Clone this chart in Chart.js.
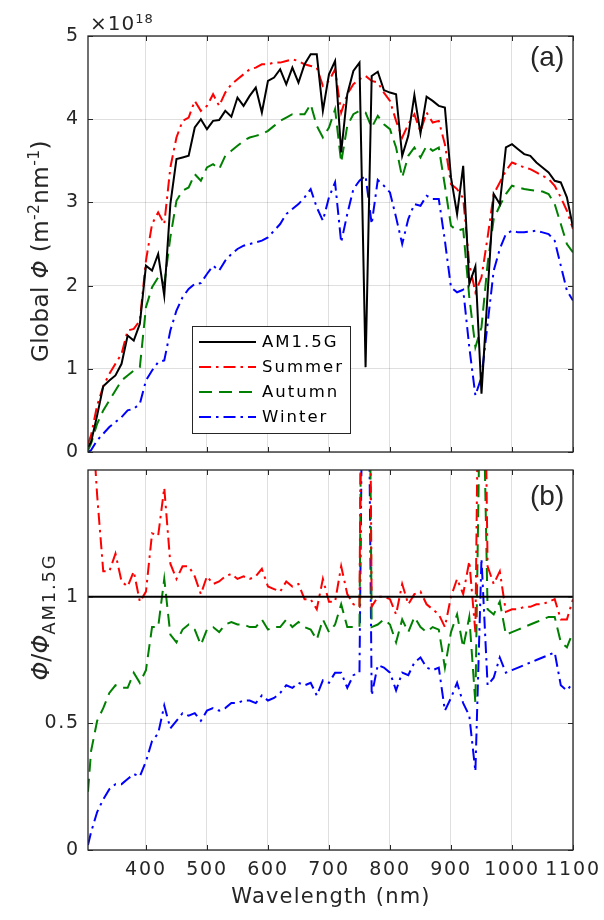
<!DOCTYPE html>
<html lang="en">
<head>
<meta charset="UTF-8">
<title>Global spectral photon flux by season</title>
<script src="https://cdn.jsdelivr.net/npm/chart.js"></script>
<style>
  body { margin: 0; background: #fff; }
  #page { position: relative; width: 604px; height: 920px; font-family: 'DejaVu Sans', sans-serif; color: #262626; overflow: hidden; }
  .panel { position: absolute; left: 0; width: 604px; height: 460px; }
  .txt { position: absolute; white-space: nowrap; line-height: normal; }
  .rot { transform: translate(-50%, -50%) rotate(-90deg); }
  .sp { font-size: 0.68em; position: relative; top: -0.55em; }
  .sb { font-size: 18px; letter-spacing: 1.8px; position: relative; top: 0.35em; }
</style>
</head>
<body>
<div id="page">
  <div class="panel" style="top:0"><canvas id="fluxChart"></canvas></div>
  <div class="panel" style="top:460px"><canvas id="ratioChart"></canvas></div>

  <div class="txt" style="left:90px;top:11px;font-size:20px;letter-spacing:1px">×10<span class="sp" style="font-size:13px">18</span></div>
  <div class="txt" style="left:530px;top:41px;font-size:28px;font-family:'Liberation Sans'">(a)</div>
  <div class="txt" style="left:530px;top:480px;font-size:28px;font-family:'Liberation Sans'">(b)</div>
  <div class="txt rot" style="left:40px;top:251px;font-size:23px;letter-spacing:0.4px">Global <i>Φ</i> (m<span class="sp">-2</span>nm<span class="sp">-1</span>)</div>
  <div class="txt rot" style="left:41px;top:617px;font-size:24px"><i>Φ</i>/<i>Φ</i><span class="sb">AM1.5G</span></div>
  <div class="txt" style="left:331px;top:884px;font-size:21px;letter-spacing:1.2px;transform:translateX(-50%)">Wavelength (nm)</div>
</div>

<script>
// wavelength grid (nm)
const wavelength = [
  305, 310, 320, 330, 340, 350, 360, 370, 380, 390,
  400, 410, 420, 430, 440, 450, 460, 470, 480, 490,
  500, 510, 520, 530, 540, 550, 560, 570, 580, 590,
  600, 610, 620, 630, 640, 650, 660, 670, 680, 690,
  700, 710, 720, 730, 740, 750, 760, 770, 780, 790,
  800, 810, 820, 830, 840, 850, 860, 870, 880, 890,
  900, 910, 920, 930, 940, 950, 960, 970, 980, 990,
  1000, 1010, 1020, 1030, 1040, 1050, 1060, 1070, 1080, 1090,
  1100
];

// global photon flux, x1e18 m^-2 nm^-1
const am15g = [
  0.06, 0.12, 0.44, 0.79, 0.86, 0.92, 1.06, 1.40, 1.34, 1.54,
  2.24, 2.18, 2.38, 1.88, 2.98, 3.52, 3.54, 3.56, 3.90, 4.00,
  3.88, 3.98, 3.99, 4.10, 4.03, 4.26, 4.16, 4.28, 4.38, 4.08,
  4.46, 4.50, 4.60, 4.42, 4.62, 4.44, 4.66, 4.78, 4.78, 4.10,
  4.54, 4.70, 3.60, 4.30, 4.58, 4.68, 1.02, 4.52, 4.57, 4.35,
  4.32, 4.30, 3.56, 3.80, 4.29, 3.83, 4.27, 4.22, 4.16, 4.14,
  3.30, 2.86, 3.44, 2.02, 2.23, 0.70, 1.90, 3.10, 2.98, 3.66,
  3.70, 3.64, 3.58, 3.56, 3.48, 3.42, 3.36, 3.26, 3.24, 3.06,
  2.70
];
const summer = [
  0.10, 0.20, 0.56, 0.79, 0.94, 1.06, 1.18, 1.46, 1.48, 1.58,
  2.30, 2.74, 2.88, 2.74, 3.42, 3.78, 3.98, 4.02, 4.22, 4.10,
  4.16, 4.30, 4.16, 4.32, 4.42, 4.48, 4.54, 4.60, 4.62, 4.66,
  4.66, 4.68, 4.68, 4.70, 4.72, 4.70, 4.66, 4.64, 4.62, 4.40,
  4.46, 4.60, 4.08, 4.30, 4.42, 4.48, 4.52, 4.46, 4.44, 4.32,
  4.22, 3.98, 3.78, 3.94, 4.06, 3.85, 4.08, 3.96, 3.98, 3.70,
  3.22, 3.16, 3.05, 2.26, 1.92, 2.10, 2.58, 3.10, 3.24, 3.38,
  3.48, 3.45, 3.42, 3.40, 3.36, 3.32, 3.28, 3.20, 3.06, 2.90,
  2.68
];
const autumn = [
  0.02, 0.10, 0.34, 0.50, 0.62, 0.74, 0.86, 0.92, 0.98, 1.02,
  1.74, 1.98, 2.10, 2.02, 2.58, 3.02, 3.14, 3.18, 3.34, 3.26,
  3.42, 3.46, 3.40, 3.56, 3.62, 3.68, 3.74, 3.78, 3.80, 3.82,
  3.86, 3.92, 3.98, 4.02, 4.06, 4.06, 4.06, 4.18, 3.92, 3.78,
  3.90, 4.12, 3.48, 3.92, 4.06, 4.10, 4.08, 3.90, 4.04, 3.94,
  3.88, 3.66, 3.30, 3.56, 3.66, 3.54, 3.68, 3.62, 3.66, 3.20,
  2.72, 2.66, 2.68, 1.86, 1.26, 1.50, 2.26, 2.80, 2.96, 3.10,
  3.20, 3.18, 3.16, 3.15, 3.14, 3.13, 3.10, 2.98, 2.74, 2.50,
  2.40
];
const winter = [
  0.00, 0.02, 0.14, 0.22, 0.30, 0.36, 0.42, 0.50, 0.52, 0.58,
  0.86, 0.98, 1.08, 1.10, 1.46, 1.70, 1.86, 1.96, 2.02, 2.03,
  2.14, 2.24, 2.18, 2.30, 2.38, 2.44, 2.48, 2.50, 2.52, 2.54,
  2.58, 2.66, 2.74, 2.86, 2.92, 2.98, 3.06, 3.16, 2.94, 2.78,
  3.06, 3.24, 2.52, 2.86, 3.16, 3.26, 3.32, 2.74, 3.27, 3.20,
  3.12, 2.82, 2.50, 2.80, 2.98, 2.96, 3.08, 3.04, 3.04, 2.54,
  1.98, 1.92, 1.95, 1.26, 0.68, 0.90, 1.54, 2.18, 2.44, 2.62,
  2.66, 2.64, 2.64, 2.65, 2.66, 2.64, 2.62, 2.54, 2.24, 1.94,
  1.82
];

// ratio to AM1.5G
const ratioSummer = [
  2.20, 1.78, 1.40, 1.10, 1.10, 1.17, 1.06, 1.04, 1.10, 0.98,
  1.02, 1.25, 1.24, 1.43, 1.13, 1.07, 1.12, 1.12, 1.08, 1.01,
  1.08, 1.05, 1.06, 1.08, 1.09, 1.07, 1.08, 1.07, 1.08, 1.11,
  1.04, 1.03, 1.02, 1.06, 1.04, 1.05, 0.99, 0.99, 0.95, 1.07,
  0.98, 0.98, 1.12, 1.01, 0.97, 0.96, 4.40, 0.96, 1.00, 1.00,
  0.99, 0.93, 1.05, 0.97, 1.01, 1.02, 0.97, 0.95, 0.93, 0.88,
  1.00, 1.07, 1.01, 1.14, 0.86, 3.00, 1.12, 1.05, 1.10, 0.94,
  0.95, 0.95, 0.96, 0.96, 0.97, 0.97, 0.98, 0.99, 0.91, 0.91,
  0.99
];
const ratioAutumn = [
  0.23, 0.39, 0.51, 0.56, 0.62, 0.65, 0.64, 0.64, 0.70, 0.66,
  0.71, 0.88, 0.88, 1.07, 0.85, 0.82, 0.87, 0.89, 0.87, 0.81,
  0.87, 0.88, 0.86, 0.89, 0.90, 0.89, 0.89, 0.88, 0.88, 0.91,
  0.87, 0.88, 0.88, 0.91, 0.88, 0.90, 0.88, 0.87, 0.83, 0.91,
  0.86, 0.89, 0.97, 0.88, 0.88, 0.88, 4.00, 0.88, 0.89, 0.91,
  0.89, 0.82, 0.91, 0.86, 0.92, 0.88, 0.86, 0.88, 0.87, 0.72,
  0.86, 0.93, 0.80, 0.92, 0.58, 2.20, 0.95, 0.93, 0.98, 0.85,
  0.86, 0.87, 0.88, 0.89, 0.90, 0.91, 0.92, 0.92, 0.82, 0.80,
  0.86
];
const ratioWinter = [
  0.02, 0.07, 0.15, 0.20, 0.24, 0.26, 0.26, 0.28, 0.30, 0.29,
  0.35, 0.43, 0.46, 0.57, 0.48, 0.51, 0.54, 0.53, 0.54, 0.51,
  0.55, 0.56, 0.55, 0.56, 0.58, 0.58, 0.59, 0.59, 0.58, 0.61,
  0.59, 0.60, 0.62, 0.65, 0.64, 0.66, 0.65, 0.66, 0.61, 0.67,
  0.66, 0.70, 0.70, 0.64, 0.69, 0.70, 3.20, 0.61, 0.73, 0.72,
  0.70, 0.63, 0.70, 0.69, 0.74, 0.76, 0.72, 0.71, 0.72, 0.55,
  0.60, 0.66, 0.58, 0.53, 0.31, 1.15, 0.65, 0.68, 0.76, 0.70,
  0.71, 0.72, 0.73, 0.74, 0.75, 0.76, 0.77, 0.78, 0.65, 0.63,
  0.66
];
const refX = [305, 1100];
const refY = [1, 1];

const xTicks = [400, 500, 600, 700, 800, 900, 1000, 1100];
const fluxTicks = [0, 1, 2, 3, 4, 5];
const ratioTicks = [0, 0.5, 1];

const dashDot = [12, 5, 2.5, 5];
const dashed = [13, 7];
const gridColor = 'rgba(38,38,38,0.15)';

Chart.defaults.font.family = "'DejaVu Sans', sans-serif";
Chart.defaults.font.size = 19;
Chart.defaults.color = '#262626';

const pts = (ys, xs) => ys.map((y, i) => ({ x: (xs || wavelength)[i], y: y }));
const fixedTicks = values => axis => { axis.ticks = values.map(v => ({ value: v })); };

// wider glyphs, like the original export
const spacing = {
  id: 'spacing',
  beforeDraw(chart) { chart.ctx.letterSpacing = '1.8px'; }
};

// box around the axes and inward tick marks
const frame = {
  id: 'frame',
  afterDatasetsDraw(chart) {
    const ctx = chart.ctx, a = chart.chartArea, sx = chart.scales.x, sy = chart.scales.y;
    ctx.save();
    ctx.strokeStyle = '#262626';
    ctx.lineWidth = 1;
    ctx.beginPath();
    sx.ticks.forEach(t => {
      const px = Math.round(sx.getPixelForValue(t.value)) + 0.5;
      ctx.moveTo(px, a.bottom); ctx.lineTo(px, a.bottom - 5);
      ctx.moveTo(px, a.top); ctx.lineTo(px, a.top + 5);
    });
    sy.ticks.forEach(t => {
      const py = Math.round(sy.getPixelForValue(t.value)) + 0.5;
      ctx.moveTo(a.left, py); ctx.lineTo(a.left + 5, py);
      ctx.moveTo(a.right, py); ctx.lineTo(a.right - 5, py);
    });
    ctx.stroke();
    ctx.lineWidth = 1.3;
    ctx.strokeRect(a.left, a.top, a.right - a.left, a.bottom - a.top);
    ctx.restore();
  }
};

// MATLAB style legend box inside panel (a)
const boxLegend = {
  id: 'boxLegend',
  afterDraw(chart) {
    const ctx = chart.ctx;
    const x0 = 192, y0 = 326, w = 158, h = 107;
    ctx.save();
    ctx.fillStyle = '#ffffff';
    ctx.fillRect(x0, y0, w, h);
    ctx.strokeStyle = '#262626';
    ctx.lineWidth = 1;
    ctx.strokeRect(x0 + 0.5, y0 + 0.5, w, h);
    chart.data.datasets.forEach((ds, i) => {
      const yy = y0 + 16 + 25 * i;
      ctx.strokeStyle = ds.borderColor;
      ctx.lineWidth = ds.borderWidth;
      ctx.setLineDash(ds.borderDash || []);
      ctx.beginPath();
      ctx.moveTo(x0 + 7, yy);
      ctx.lineTo(x0 + 64, yy);
      ctx.stroke();
      ctx.setLineDash([]);
      ctx.letterSpacing = '2px';
      ctx.fillStyle = '#000000';
      ctx.font = "16.5px 'DejaVu Sans'";
      ctx.textBaseline = 'middle';
      ctx.fillText(ds.label, x0 + 70, yy + 1);
    });
    ctx.restore();
  }
};

function makeOptions(yMax, yTicks, showX, padTop, xHeight) {
  return {
    responsive: true,
    maintainAspectRatio: false,
    animation: false,
    devicePixelRatio: 1,
    layout: { padding: { left: 0, right: 31, top: padTop, bottom: 0 } },
    plugins: { legend: { display: false }, tooltip: { enabled: false } },
    elements: { point: { radius: 0 }, line: { tension: 0 } },
    scales: {
      x: {
        type: 'linear', min: 305, max: 1100,
        afterBuildTicks: fixedTicks(xTicks),
        afterFit: s => { s.height = xHeight; s.paddingLeft = 0; s.paddingRight = 0; },
        grid: { color: gridColor, drawTicks: false },
        border: { display: false },
        ticks: { display: showX, padding: 9, callback: v => String(v) }
      },
      y: {
        min: 0, max: yMax,
        afterBuildTicks: fixedTicks(yTicks),
        afterFit: s => { s.width = 88; s.paddingTop = 0; s.paddingBottom = 0; },
        grid: { color: gridColor, drawTicks: false },
        border: { display: false },
        ticks: { padding: 8, callback: v => String(v) }
      }
    }
  };
}

new Chart(document.getElementById('fluxChart'), {
  type: 'line',
  data: {
    datasets: [
      { label: 'AM1.5G', data: pts(am15g), borderColor: '#000000', borderWidth: 2 },
      { label: 'Summer', data: pts(summer), borderColor: '#ff0000', borderWidth: 2, borderDash: dashDot },
      { label: 'Autumn', data: pts(autumn), borderColor: '#008000', borderWidth: 2, borderDash: dashed },
      { label: 'Winter', data: pts(winter), borderColor: '#0000ff', borderWidth: 2, borderDash: dashDot }
    ]
  },
  options: makeOptions(5, fluxTicks, false, 36, 8),
  plugins: [spacing, frame, boxLegend]
});

new Chart(document.getElementById('ratioChart'), {
  type: 'line',
  data: {
    datasets: [
      { label: 'AM1.5G', data: pts(refY, refX), borderColor: '#000000', borderWidth: 2 },
      { label: 'Summer', data: pts(ratioSummer), borderColor: '#ff0000', borderWidth: 2, borderDash: dashDot },
      { label: 'Autumn', data: pts(ratioAutumn), borderColor: '#008000', borderWidth: 2, borderDash: dashed },
      { label: 'Winter', data: pts(ratioWinter), borderColor: '#0000ff', borderWidth: 2, borderDash: dashDot }
    ]
  },
  options: makeOptions(1.5, ratioTicks, true, 10, 70),
  plugins: [spacing, frame]
});
</script>
</body>
</html>
